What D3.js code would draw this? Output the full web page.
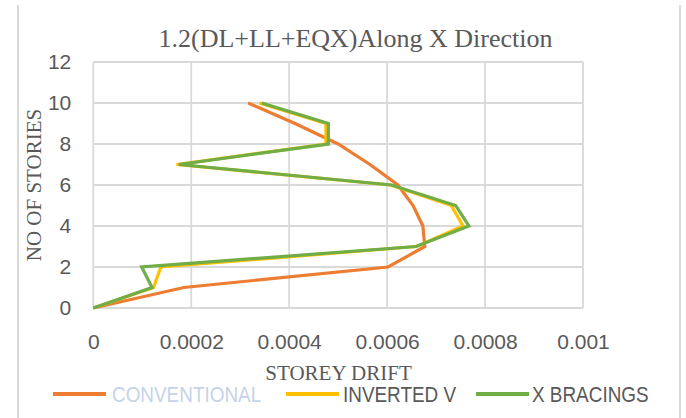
<!DOCTYPE html>
<html>
<head>
<meta charset="utf-8">
<script src="https://cdn.jsdelivr.net/npm/d3@7"></script>
<style>
  html, body { margin: 0; padding: 0; background: #fff; }
  svg { display: block; }
</style>
</head>
<body>
<svg id="chart" width="686" height="418"></svg>
<script>
// Storey number for each point
const stories = [0, 1, 2, 3, 4, 5, 6, 7, 8, 9, 10];

// Storey drift per storey for each framing system
const conventional = [0, 0.000185, 0.000602, 0.000677, 0.000673, 0.000653, 0.000622, 0.000565, 0.000500, 0.000412, 0.000316];
const invertedV    = [0, 0.000123, 0.000138, 0.000660, 0.000755, 0.000731, 0.000607, 0.000170, 0.000475, 0.000475, 0.000339];
const xBracings    = [0, 0.000120, 0.0000988, 0.000659, 0.000767, 0.000740, 0.000609, 0.000175, 0.000480, 0.000480, 0.000344];

const seriesNames = ["CONVENTIONAL", "INVERTED V", "X BRACINGS"];
const seriesColors = ["#ED7D31", "#FFC000", "#70AD47"];

const xTicks = [0, 0.0002, 0.0004, 0.0006, 0.0008, 0.001];
const xTickLabels = ["0", "0.0002", "0.0004", "0.0006", "0.0008", "0.001"];
const yTicks = [0, 2, 4, 6, 8, 10, 12];

const svg = d3.select("#chart");
const W = 686, H = 418;
const plot = { left: 93.3, right: 583, top: 62, bottom: 308 };

const x = d3.scaleLinear().domain([0, 0.001]).range([plot.left, plot.right]);
const y = d3.scaleLinear().domain([0, 12]).range([plot.bottom, plot.top]);

// Chart area frame (side edges)
svg.append("line").attr("x1", 18).attr("x2", 18).attr("y1", 5).attr("y2", H)
  .attr("stroke", "#d9d9d9").attr("stroke-width", 2);
svg.append("line").attr("x1", 680).attr("x2", 680).attr("y1", 5).attr("y2", H)
  .attr("stroke", "#d9d9d9").attr("stroke-width", 2);

// Gridlines
const grid = svg.append("g").attr("stroke", "#d9d9d9").attr("stroke-width", 1.8);
yTicks.forEach(t => {
  grid.append("line").attr("x1", plot.left).attr("x2", plot.right)
    .attr("y1", y(t)).attr("y2", y(t));
});
xTicks.forEach(t => {
  grid.append("line").attr("x1", x(t)).attr("x2", x(t))
    .attr("y1", plot.top).attr("y2", plot.bottom);
});

// Axes (labels only, no domain or tick marks)
const xAxis = d3.axisBottom(x).tickValues(xTicks)
  .tickFormat((d, i) => xTickLabels[i]).tickSize(0).tickPadding(26);
const yAxis = d3.axisLeft(y).tickValues(yTicks).tickSize(0).tickPadding(22);

const gx = svg.append("g").attr("transform", `translate(0,${plot.bottom})`).call(xAxis);
const gy = svg.append("g").attr("transform", `translate(${plot.left},0)`).call(yAxis);
[gx, gy].forEach(g => {
  g.select(".domain").remove();
  g.selectAll("text")
    .attr("fill", "#595959")
    .style("font-family", "'Liberation Sans', Arial, sans-serif")
    .style("font-size", "21px");
});

// Series lines
const allSeries = [conventional, invertedV, xBracings];
const line = d3.line()
  .x(d => x(d[0]))
  .y(d => y(d[1]));
allSeries.forEach((vals, i) => {
  const pts = vals.map((v, k) => [v, stories[k]]);
  svg.append("path")
    .datum(pts)
    .attr("d", line)
    .attr("fill", "none")
    .attr("stroke", seriesColors[i])
    .attr("stroke-width", 3.2)
    .attr("stroke-linejoin", "miter")
    .attr("stroke-linecap", "butt");
});

// Title
svg.append("text")
  .attr("x", 355.5).attr("y", 47)
  .attr("text-anchor", "middle")
  .attr("fill", "#595959")
  .style("font-family", "'Liberation Serif', 'Times New Roman', serif")
  .style("font-size", "26px")
  .text("1.2(DL+LL+EQX)Along X Direction");

// Axis titles
svg.append("text")
  .attr("x", 338.5).attr("y", 380)
  .attr("text-anchor", "middle")
  .attr("fill", "#595959")
  .style("font-family", "'Liberation Serif', 'Times New Roman', serif")
  .style("font-size", "21px")
  .text("STOREY DRIFT");

svg.append("text")
  .attr("transform", "translate(41,185) rotate(-90)")
  .attr("text-anchor", "middle")
  .attr("fill", "#595959")
  .style("font-family", "'Liberation Serif', 'Times New Roman', serif")
  .style("font-size", "21px")
  .text("NO OF STORIES");

// Legend (condensed lettering via horizontal scale)
const legendItems = [
  { x0: 53, textX: 112, textColor: "#c5d3ea" },
  { x0: 286, textX: 343, textColor: "#595959" },
  { x0: 476, textX: 532, textColor: "#595959" }
];
const legendY = 394;
legendItems.forEach((it, i) => {
  svg.append("line")
    .attr("x1", it.x0).attr("x2", it.x0 + 53)
    .attr("y1", legendY).attr("y2", legendY)
    .attr("stroke", seriesColors[i]).attr("stroke-width", 4);
  svg.append("text")
    .attr("transform", `translate(${it.textX},${legendY + 8}) scale(0.86,1)`)
    .attr("fill", it.textColor)
    .style("font-family", "'Liberation Sans', Arial, sans-serif")
    .style("font-size", "22px")
    .text(seriesNames[i]);
});
</script>
</body>
</html>
